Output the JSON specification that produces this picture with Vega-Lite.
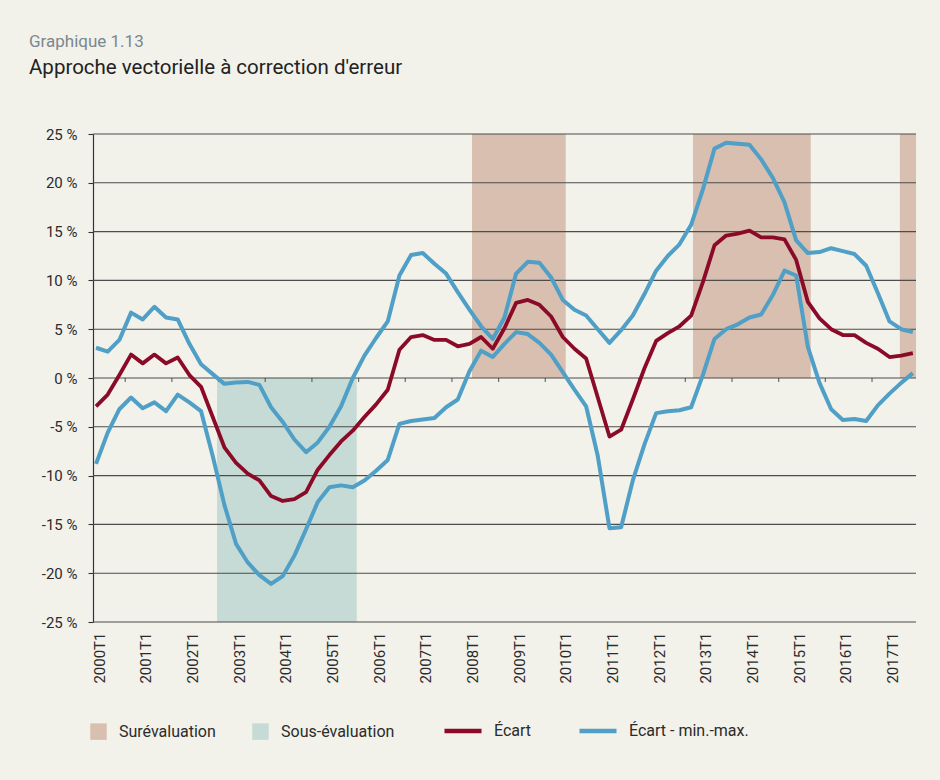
{
  "$schema": "https://vega.github.io/schema/vega-lite/v6.json",
  "width": 823,
  "height": 488,
  "autosize": {"type": "none"},
  "padding": {"left": 93, "top": 134, "right": 24, "bottom": 158},
  "background": "#f2f1ea",
  "title": {
    "text": "Graphique 1.13",
    "subtitle": "Approche vectorielle à correction d'erreur",
    "anchor": "start",
    "frame": "group",
    "dx": -64,
    "offset": 48,
    "font": "Roboto",
    "fontSize": 17,
    "fontWeight": "normal",
    "color": "#7b8790",
    "subtitleFont": "Roboto",
    "subtitleFontSize": 20.5,
    "subtitleColor": "#222222",
    "subtitlePadding": 7
  },
  "datasets": {
    "zones": [
      {"zone": "Sous-évaluation", "debut": 10.37, "fin": 22.34, "limite": -25},
      {"zone": "Surévaluation", "debut": 32.22, "fin": 40.25, "limite": 25},
      {"zone": "Surévaluation", "debut": 51.16, "fin": 61.25, "limite": 25},
      {"zone": "Surévaluation", "debut": 68.89, "fin": 70.27, "limite": 25}
    ],
    "grille": [
      {"niveau": -25}, {"niveau": -20}, {"niveau": -15}, {"niveau": -10}, {"niveau": -5},
      {"niveau": 0}, {"niveau": 5}, {"niveau": 10}, {"niveau": 15}, {"niveau": 20}, {"niveau": 25}
    ],
    "reperes": [
      {"q": 2.5}, {"q": 6.5}, {"q": 10.5}, {"q": 14.5}, {"q": 18.5}, {"q": 22.5}, {"q": 26.5}, {"q": 30.5}, {"q": 34.5},
      {"q": 38.5}, {"q": 42.5}, {"q": 46.5}, {"q": 50.5}, {"q": 54.5}, {"q": 58.5}, {"q": 62.5}, {"q": 66.5}
    ],
    "series": [
      {"q": 0, "periode": "2000T1", "ecart": -2.9, "min": -8.8, "max": 3.1},
      {"q": 1, "periode": "2000T2", "ecart": -1.7, "min": -5.6, "max": 2.7},
      {"q": 2, "periode": "2000T3", "ecart": 0.3, "min": -3.2, "max": 3.9},
      {"q": 3, "periode": "2000T4", "ecart": 2.4, "min": -2.0, "max": 6.7},
      {"q": 4, "periode": "2001T1", "ecart": 1.5, "min": -3.1, "max": 6.0},
      {"q": 5, "periode": "2001T2", "ecart": 2.4, "min": -2.5, "max": 7.3},
      {"q": 6, "periode": "2001T3", "ecart": 1.5, "min": -3.4, "max": 6.2},
      {"q": 7, "periode": "2001T4", "ecart": 2.1, "min": -1.7, "max": 6.0},
      {"q": 8, "periode": "2002T1", "ecart": 0.3, "min": -2.5, "max": 3.5},
      {"q": 9, "periode": "2002T2", "ecart": -0.9, "min": -3.4, "max": 1.4},
      {"q": 10, "periode": "2002T3", "ecart": -4.0, "min": -8.0, "max": 0.4},
      {"q": 11, "periode": "2002T4", "ecart": -7.1, "min": -13.0, "max": -0.6},
      {"q": 12, "periode": "2003T1", "ecart": -8.7, "min": -17.0, "max": -0.45},
      {"q": 13, "periode": "2003T2", "ecart": -9.8, "min": -18.9, "max": -0.4},
      {"q": 14, "periode": "2003T3", "ecart": -10.5, "min": -20.2, "max": -0.7},
      {"q": 15, "periode": "2003T4", "ecart": -12.1, "min": -21.1, "max": -3.0},
      {"q": 16, "periode": "2004T1", "ecart": -12.6, "min": -20.3, "max": -4.5},
      {"q": 17, "periode": "2004T2", "ecart": -12.4, "min": -18.2, "max": -6.3},
      {"q": 18, "periode": "2004T3", "ecart": -11.7, "min": -15.5, "max": -7.6},
      {"q": 19, "periode": "2004T4", "ecart": -9.4, "min": -12.7, "max": -6.6},
      {"q": 20, "periode": "2005T1", "ecart": -7.9, "min": -11.2, "max": -5.0},
      {"q": 21, "periode": "2005T2", "ecart": -6.5, "min": -11.0, "max": -2.9},
      {"q": 22, "periode": "2005T3", "ecart": -5.4, "min": -11.2, "max": 0.0},
      {"q": 23, "periode": "2005T4", "ecart": -4.0, "min": -10.5, "max": 2.3},
      {"q": 24, "periode": "2006T1", "ecart": -2.7, "min": -9.5, "max": 4.1},
      {"q": 25, "periode": "2006T2", "ecart": -1.2, "min": -8.4, "max": 5.8},
      {"q": 26, "periode": "2006T3", "ecart": 2.9, "min": -4.7, "max": 10.5},
      {"q": 27, "periode": "2006T4", "ecart": 4.2, "min": -4.4, "max": 12.6},
      {"q": 28, "periode": "2007T1", "ecart": 4.4, "min": -4.25, "max": 12.8},
      {"q": 29, "periode": "2007T2", "ecart": 3.9, "min": -4.1, "max": 11.7},
      {"q": 30, "periode": "2007T3", "ecart": 3.9, "min": -3.0, "max": 10.7},
      {"q": 31, "periode": "2007T4", "ecart": 3.25, "min": -2.2, "max": 8.8},
      {"q": 32, "periode": "2008T1", "ecart": 3.5, "min": 0.7, "max": 7.0},
      {"q": 33, "periode": "2008T2", "ecart": 4.2, "min": 2.8, "max": 5.3},
      {"q": 34, "periode": "2008T3", "ecart": 3.0, "min": 2.15, "max": 4.0},
      {"q": 35, "periode": "2008T4", "ecart": 5.1, "min": 3.5, "max": 6.2},
      {"q": 36, "periode": "2009T1", "ecart": 7.7, "min": 4.7, "max": 10.7},
      {"q": 37, "periode": "2009T2", "ecart": 8.0, "min": 4.5, "max": 11.9},
      {"q": 38, "periode": "2009T3", "ecart": 7.5, "min": 3.6, "max": 11.8},
      {"q": 39, "periode": "2009T4", "ecart": 6.3, "min": 2.4, "max": 10.3},
      {"q": 40, "periode": "2010T1", "ecart": 4.2, "min": 0.6, "max": 8.0},
      {"q": 41, "periode": "2010T2", "ecart": 3.0, "min": -1.2, "max": 7.0},
      {"q": 42, "periode": "2010T3", "ecart": 2.0, "min": -2.9, "max": 6.4},
      {"q": 43, "periode": "2010T4", "ecart": -2.0, "min": -8.0, "max": 5.0},
      {"q": 44, "periode": "2011T1", "ecart": -6.0, "min": -15.4, "max": 3.6},
      {"q": 45, "periode": "2011T2", "ecart": -5.3, "min": -15.3, "max": 4.9},
      {"q": 46, "periode": "2011T3", "ecart": -2.2, "min": -10.5, "max": 6.4},
      {"q": 47, "periode": "2011T4", "ecart": 1.0, "min": -6.8, "max": 8.6},
      {"q": 48, "periode": "2012T1", "ecart": 3.8, "min": -3.6, "max": 11.0},
      {"q": 49, "periode": "2012T2", "ecart": 4.6, "min": -3.4, "max": 12.5},
      {"q": 50, "periode": "2012T3", "ecart": 5.3, "min": -3.3, "max": 13.7},
      {"q": 51, "periode": "2012T4", "ecart": 6.4, "min": -3.0, "max": 15.7},
      {"q": 52, "periode": "2013T1", "ecart": 9.8, "min": 0.3, "max": 19.3},
      {"q": 53, "periode": "2013T2", "ecart": 13.6, "min": 4.0, "max": 23.5},
      {"q": 54, "periode": "2013T3", "ecart": 14.6, "min": 5.0, "max": 24.1},
      {"q": 55, "periode": "2013T4", "ecart": 14.8, "min": 5.5, "max": 24.0},
      {"q": 56, "periode": "2014T1", "ecart": 15.1, "min": 6.2, "max": 23.9},
      {"q": 57, "periode": "2014T2", "ecart": 14.4, "min": 6.5, "max": 22.4},
      {"q": 58, "periode": "2014T3", "ecart": 14.4, "min": 8.5, "max": 20.5},
      {"q": 59, "periode": "2014T4", "ecart": 14.2, "min": 11.0, "max": 18.0},
      {"q": 60, "periode": "2015T1", "ecart": 12.1, "min": 10.5, "max": 14.1},
      {"q": 61, "periode": "2015T2", "ecart": 7.8, "min": 3.2, "max": 12.8},
      {"q": 62, "periode": "2015T3", "ecart": 6.1, "min": -0.5, "max": 12.9},
      {"q": 63, "periode": "2015T4", "ecart": 5.0, "min": -3.2, "max": 13.3},
      {"q": 64, "periode": "2016T1", "ecart": 4.4, "min": -4.3, "max": 13.0},
      {"q": 65, "periode": "2016T2", "ecart": 4.4, "min": -4.2, "max": 12.7},
      {"q": 66, "periode": "2016T3", "ecart": 3.6, "min": -4.4, "max": 11.5},
      {"q": 67, "periode": "2016T4", "ecart": 3.0, "min": -2.8, "max": 8.7},
      {"q": 68, "periode": "2017T1", "ecart": 2.15, "min": -1.6, "max": 5.8},
      {"q": 69, "periode": "2017T2", "ecart": 2.3, "min": -0.5, "max": 5.0},
      {"q": 70, "periode": "2017T3", "ecart": 2.55, "min": 0.5, "max": 4.7}
    ]
  },
  "layer": [
    {
      "data": {"name": "zones"},
      "mark": {"type": "rect"},
      "encoding": {
        "x": {
          "field": "debut", "type": "quantitative",
          "scale": {"domain": [-0.26, 70.27], "nice": false, "zero": false},
          "axis": {"title": null, "values": [0, 4, 8, 12, 16, 20, 24, 28, 32, 36, 40, 44, 48, 52, 56, 60, 64, 68], "labelExpr": "(2000 + datum.value / 4) + 'T1'"}
        },
        "x2": {"field": "fin"},
        "y": {
          "field": "limite", "type": "quantitative",
          "scale": {"domain": [-25, 25], "nice": false, "zero": false},
          "axis": {"title": null, "values": [-25, -20, -15, -10, -5, 0, 5, 10, 15, 20, 25], "labelExpr": "datum.value + ' %'"}
        },
        "y2": {"datum": 0},
        "fill": {
          "field": "zone", "type": "nominal",
          "scale": {"domain": ["Surévaluation", "Sous-évaluation"], "range": ["#d8bfb0", "#c6dbd5"]},
          "legend": {
            "title": null,
            "orient": "none",
            "legendX": -3,
            "legendY": 589,
            "direction": "horizontal",
            "symbolType": "square",
            "symbolSize": 272,
            "symbolStrokeWidth": 0,
            "symbolOpacity": 1,
            "labelFont": "Roboto",
            "labelFontSize": 16,
            "labelColor": "#2b2b2b",
            "labelOffset": 12,
            "columnPadding": 36,
            "padding": 0
          }
        }
      }
    },
    {
      "data": {"name": "grille"},
      "mark": {"type": "rule", "color": "#4d4d4d", "strokeWidth": 1.1},
      "encoding": {
        "y": {
          "field": "niveau", "type": "quantitative",
          "scale": {"domain": [-25, 25], "nice": false, "zero": false},
          "axis": {"title": null, "values": [-25, -20, -15, -10, -5, 0, 5, 10, 15, 20, 25], "labelExpr": "datum.value + ' %'"}
        }
      }
    },
    {
      "data": {"name": "reperes"},
      "mark": {"type": "tick", "orient": "vertical", "size": 4, "thickness": 1.2, "color": "#333333", "yOffset": 2},
      "encoding": {
        "x": {
          "field": "q", "type": "quantitative",
          "scale": {"domain": [-0.26, 70.27], "nice": false, "zero": false},
          "axis": {"title": null, "values": [0, 4, 8, 12, 16, 20, 24, 28, 32, 36, 40, 44, 48, 52, 56, 60, 64, 68], "labelExpr": "(2000 + datum.value / 4) + 'T1'"}
        },
        "y": {
          "datum": 0, "type": "quantitative",
          "axis": {"title": null, "values": [-25, -20, -15, -10, -5, 0, 5, 10, 15, 20, 25], "labelExpr": "datum.value + ' %'"}
        }
      }
    },
    {
      "data": {"name": "series"},
      "mark": {"type": "line", "strokeWidth": 3.8, "strokeJoin": "round", "strokeCap": "butt"},
      "encoding": {
        "x": {
          "field": "q", "type": "quantitative",
          "scale": {"domain": [-0.26, 70.27], "nice": false, "zero": false},
          "axis": {"title": null, "values": [0, 4, 8, 12, 16, 20, 24, 28, 32, 36, 40, 44, 48, 52, 56, 60, 64, 68], "labelExpr": "(2000 + datum.value / 4) + 'T1'"}
        },
        "y": {
          "field": "ecart", "type": "quantitative",
          "scale": {"domain": [-25, 25], "nice": false, "zero": false},
          "axis": {"title": null, "values": [-25, -20, -15, -10, -5, 0, 5, 10, 15, 20, 25], "labelExpr": "datum.value + ' %'"}
        },
        "stroke": {
          "datum": "Écart", "type": "nominal",
          "scale": {"domain": ["Écart", "Écart - min.-max."], "range": ["#8b0a28", "#4f9fc6"]},
          "legend": {
            "title": null,
            "orient": "none",
            "legendX": 349,
            "legendY": 576,
            "direction": "horizontal",
            "symbolType": "stroke",
            "symbolSize": 1369,
            "symbolStrokeWidth": 4.5,
            "symbolOpacity": 1,
            "labelFont": "Roboto",
            "labelFontSize": 16,
            "labelColor": "#2b2b2b",
            "labelOffset": 10,
            "columnPadding": 38,
            "padding": 0
          }
        }
      }
    },
    {
      "data": {"name": "series"},
      "transform": [{"fold": ["min", "max"], "as": ["borne", "valeur"]}],
      "mark": {"type": "line", "strokeWidth": 4, "strokeJoin": "round", "strokeCap": "butt"},
      "encoding": {
        "x": {
          "field": "q", "type": "quantitative",
          "scale": {"domain": [-0.26, 70.27], "nice": false, "zero": false},
          "axis": {"title": null, "values": [0, 4, 8, 12, 16, 20, 24, 28, 32, 36, 40, 44, 48, 52, 56, 60, 64, 68], "labelExpr": "(2000 + datum.value / 4) + 'T1'"}
        },
        "y": {
          "field": "valeur", "type": "quantitative",
          "scale": {"domain": [-25, 25], "nice": false, "zero": false},
          "axis": {"title": null, "values": [-25, -20, -15, -10, -5, 0, 5, 10, 15, 20, 25], "labelExpr": "datum.value + ' %'"}
        },
        "detail": {"field": "borne", "type": "nominal"},
        "stroke": {
          "datum": "Écart - min.-max.", "type": "nominal",
          "scale": {"domain": ["Écart", "Écart - min.-max."], "range": ["#8b0a28", "#4f9fc6"]}
        }
      }
    }
  ],
  "config": {
    "font": "Roboto",
    "view": {"stroke": null},
    "axis": {"labelFont": "Roboto", "labelFontSize": 15, "labelColor": "#2b2b2b"},
    "axisX": {
      "labelAngle": 270, "labelAlign": "right", "labelBaseline": "middle",
      "labelPadding": 10, "labelOffset": 3, "labelOverlap": false, "labelFlush": false,
      "ticks": false, "domain": false, "grid": false
    },
    "axisY": {
      "grid": false, "domain": true, "domainColor": "#333333", "domainWidth": 1.2,
      "ticks": true, "tickSize": 5, "tickColor": "#333333", "tickWidth": 1.1,
      "labelPadding": 11
    }
  }
}
